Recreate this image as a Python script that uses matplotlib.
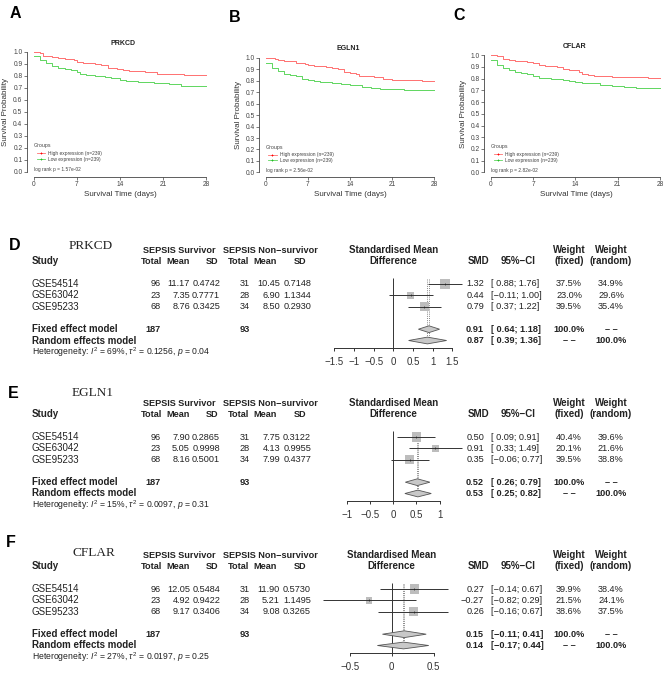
import matplotlib.pyplot as plt
import numpy as np

W, H = 669, 677
plt.rcParams['font.family'] = ['Liberation Sans', 'DejaVu Sans']
plt.rcParams['mathtext.fontset'] = 'custom'
plt.rcParams['mathtext.rm'] = 'Liberation Sans'
plt.rcParams['mathtext.it'] = 'Liberation Sans:italic'

# ---------------- Kaplan-Meier data ----------------
km_genes = ['PRKCD', 'EGLN1', 'CFLAR']
km_pvals = ['1.57e-02', '2.56e-02', '2.82e-02']
km_n_high = 239
km_n_low = 239

prkcd_high_t = [0, 1, 1.5, 3, 4, 5, 6.5, 7, 8, 10, 11, 12, 13.5, 14.5, 15.5, 18, 20, 24.5, 28]
prkcd_high_s = [1.0, 0.99, 0.97, 0.96, 0.95, 0.94, 0.93, 0.92, 0.91, 0.90, 0.89, 0.87, 0.86, 0.85, 0.84, 0.83, 0.82, 0.81, 0.81]
prkcd_low_t = [0, 1, 2, 3, 4, 5, 6, 7, 7.5, 8.5, 10, 11.5, 12.5, 14, 15, 17, 19.5, 22, 24, 28]
prkcd_low_s = [0.97, 0.93, 0.91, 0.88, 0.87, 0.86, 0.85, 0.83, 0.82, 0.81, 0.80, 0.79, 0.78, 0.77, 0.76, 0.75, 0.74, 0.73, 0.72, 0.72]

egln1_high_t = [0, 1.5, 2, 3, 5, 6.5, 7, 8, 10, 11, 12, 13, 14, 15, 15.5, 18, 19.5, 21, 26, 28]
egln1_high_s = [1.0, 0.99, 0.98, 0.97, 0.96, 0.95, 0.94, 0.93, 0.92, 0.91, 0.90, 0.88, 0.87, 0.86, 0.84, 0.83, 0.82, 0.81, 0.80, 0.80]
egln1_low_t = [0, 1, 2, 3, 4, 5, 6, 7, 8, 9, 11, 12.5, 14, 16, 17.5, 19, 23, 28]
egln1_low_s = [0.96, 0.91, 0.89, 0.86, 0.85, 0.84, 0.82, 0.81, 0.80, 0.79, 0.78, 0.77, 0.76, 0.75, 0.74, 0.73, 0.72, 0.72]

cflar_high_t = [0, 1, 2, 3, 4, 6, 7, 8, 9, 11, 12, 13, 14.5, 15, 16, 17, 20, 26, 28]
cflar_high_s = [1.0, 0.99, 0.97, 0.96, 0.95, 0.94, 0.93, 0.92, 0.91, 0.90, 0.88, 0.87, 0.86, 0.84, 0.83, 0.82, 0.815, 0.805, 0.805]
cflar_low_t = [0, 1, 2, 3, 4, 5, 6, 7, 8, 10, 12, 13, 14, 15, 18, 20, 22, 24, 28]
cflar_low_s = [0.96, 0.92, 0.89, 0.87, 0.86, 0.85, 0.84, 0.82, 0.81, 0.80, 0.79, 0.78, 0.77, 0.76, 0.75, 0.74, 0.73, 0.72, 0.72]

km_high = [(prkcd_high_t, prkcd_high_s), (egln1_high_t, egln1_high_s), (cflar_high_t, cflar_high_s)]
km_low = [(prkcd_low_t, prkcd_low_s), (egln1_low_t, egln1_low_s), (cflar_low_t, cflar_low_s)]

# ---------------- meta-analysis data ----------------
fp_genes = ['PRKCD', 'EGLN1', 'CFLAR']
studies = ['GSE54514', 'GSE63042', 'GSE95233']
surv_n = [96, 23, 68]
nonsurv_n = [31, 28, 34]
surv_mean = [[11.17, 7.35, 8.76], [7.90, 5.05, 8.16], [12.05, 4.92, 9.17]]
surv_sd = [[0.4742, 0.7771, 0.3425], [0.2865, 0.9998, 0.5001], [0.5484, 0.9422, 0.3406]]
nonsurv_mean = [[10.45, 6.90, 8.50], [7.75, 4.13, 7.99], [11.90, 5.21, 9.08]]
nonsurv_sd = [[0.7148, 1.1344, 0.2930], [0.3122, 0.9955, 0.4377], [0.5730, 1.1495, 0.3265]]
smd = [[1.32, 0.44, 0.79], [0.50, 0.91, 0.35], [0.27, -0.27, 0.26]]
ci_lo = [[0.88, -0.11, 0.37], [0.09, 0.33, -0.06], [-0.14, -0.82, -0.16]]
ci_hi = [[1.76, 1.00, 1.22], [0.91, 1.49, 0.77], [0.67, 0.29, 0.67]]
w_fixed = [[37.5, 23.0, 39.5], [40.4, 20.1, 39.5], [39.9, 21.5, 38.6]]
w_random = [[34.9, 29.6, 35.4], [39.6, 21.6, 38.8], [38.4, 24.1, 37.5]]
fixed_est = [[0.91, 0.64, 1.18], [0.52, 0.26, 0.79], [0.15, -0.11, 0.41]]
random_est = [[0.87, 0.39, 1.36], [0.53, 0.25, 0.82], [0.14, -0.17, 0.44]]
het_i2 = ['69%', '15%', '27%']
het_tau2 = ['0.1256', '0.0097', '0.0197']
het_p = ['0.04', '0.31', '0.25']
fp_xlim = [1.76, 1.49, 0.82]
fp_ticks = [[-1.5, -1, -0.5, 0, 0.5, 1, 1.5], [-1, -0.5, 0, 0.5, 1], [-0.5, 0, 0.5]]

RED = '#FF7070'
GREEN = '#5FD65F'
DARK = '#222222'
NUM = 6.6   # font size of the numbers in the tables
LAB = 7     # font size of the labels
DASH = '\u2013 \u2013'

fig = plt.figure(figsize=(W / 100, H / 100), dpi=100)


def box(l, t, r, b):
    return [l / W, 1 - b / H, (r - l) / W, (b - t) / H]


def txt(x, y, s, ha='left', size=LAB, weight='normal', color=DARK, **kw):
    fig.text(x / W, 1 - y / H, s, ha=ha, va='center', fontsize=size,
             fontweight=weight, color=color, **kw)


def mfmt(v, nd=2):
    return f'{v:.{nd}f}'.replace('-', '\u2212')


def cifmt(lo, hi):
    lo_s = f'{lo:5.2f}'.replace('-', '\u2212')
    return f'[{lo_s}; {mfmt(hi)}]'


# ---------------- KM panels ----------------
km_boxes = [(26.9, 47.2, 212.9, 176.8), (259.0, 53.4, 441.0, 176.9), (484.2, 50.6, 666.8, 177.0)]
km_letters = [('A', 15, 14), ('B', 235, 17), ('C', 459, 15)]
km_titles = [(123, 43.5), (348, 48.5), (575, 46)]
km_ylab = [(6, 112), (238.5, 115), (463.5, 114)]
km_xlab = [(120, 194), (350, 194.5), (576, 195)]

for i in range(3):
    ax = fig.add_axes(box(*km_boxes[i]))
    ht, hs = km_high[i]
    lt, ls = km_low[i]
    ax.step(ht, hs, where='post', color=RED, lw=0.7)
    ax.step(lt, ls, where='post', color=GREEN, lw=0.7)
    ax.set_xlim(-1.12, 29.12)
    ax.set_ylim(-0.04, 1.04)
    for sp in ['top', 'right']:
        ax.spines[sp].set_visible(False)
    ax.spines['left'].set_bounds(0, 1)
    ax.spines['bottom'].set_bounds(0, 28)
    for sp in ['left', 'bottom']:
        ax.spines[sp].set_linewidth(0.6)
        ax.spines[sp].set_color('#444444')
    ax.set_xticks([0, 7, 14, 21, 28])
    ax.set_yticks(np.round(np.arange(0, 1.01, 0.1), 1))
    ax.set_yticklabels([f'{v:.1f}' for v in np.arange(0, 1.01, 0.1)])
    ax.tick_params(labelsize=4.8, length=2, width=0.5, pad=1.2, colors='#444444')
    ax.patch.set_alpha(0)

    ax.text(0, 0.22, 'Groups', fontsize=3.8, color='#444444', va='center')
    ax.plot([0.45, 1.8], [0.155, 0.155], color=RED, lw=0.6)
    ax.plot([1.1], [0.155], marker='+', color='red', ms=2, mew=0.6)
    ax.text(2.3, 0.155, f'High expression (n={km_n_high})', fontsize=3.5, color='#444444', va='center')
    ax.plot([0.45, 1.8], [0.105, 0.105], color=GREEN, lw=0.6)
    ax.plot([1.1], [0.105], marker='+', color='#22BB22', ms=2, mew=0.6)
    ax.text(2.3, 0.105, f'Low expression (n={km_n_low})', fontsize=3.5, color='#444444', va='center')
    ax.text(0, 0.018, f'log rank p = {km_pvals[i]}', fontsize=3.5, color='#444444', va='center')

    L, lx, ly = km_letters[i]
    txt(lx, ly, L, ha='center', size=11.5, weight='bold', color='black')
    tx, ty = km_titles[i]
    txt(tx, ty, km_genes[i], ha='center', size=5, weight='bold')
    yx, yy = km_ylab[i]
    txt(yx, yy, 'Survival Probability', ha='center', size=5.8, color='#333333', rotation=90)
    xx, xy = km_xlab[i]
    txt(xx, xy, 'Survival Time (days)', ha='center', size=5.8, color='#333333')

# ---------------- forest panels ----------------
fp_letters = [('D', 15, 246), ('E', 13, 394), ('F', 11, 542.5)]
fp_title_pos = [(91, 246), (93, 393.5), (94, 552.5)]
fp_row0 = [284, 437, 589]
fp_zero = [393.3, 393.3, 391.7]
RH = 11.3  # px per row
HALF = 69  # half width of the plot region in px

X_STUDY = 32
X_TOT1, X_MEAN1, X_SD1 = 161, 190, 220
X_TOT2, X_MEAN2, X_SD2 = 250, 280, 311
X_SMD, X_CI, X_WF, X_WR = 484, 491, 569, 611

for g in range(3):
    r0 = fp_row0[g]

    def ry(r):
        return r0 + r * RH

    L, lx, ly = fp_letters[g]
    txt(lx, ly, L, ha='center', size=11.5, weight='bold', color='black')
    tx, ty = fp_title_pos[g]
    txt(tx, ty, fp_genes[g], ha='center', size=9.5, family='Liberation Serif')

    # header
    txt(179, ry(-3), 'SEPSIS Survivor', ha='center', weight='bold', size=6.6)
    txt(270, ry(-3), 'SEPSIS Non\u2212survivor', ha='center', weight='bold', size=6.6)
    txt(X_STUDY, ry(-2), 'Study', weight='bold')
    for x, lab in [(162, 'Total'), (189.5, 'Mean'), (218, 'SD'),
                   (249, 'Total'), (277, 'Mean'), (306, 'SD')]:
        txt(x, ry(-2), lab, ha='right', weight='bold', size=6.6)
    c = fp_zero[g]
    txt(c, ry(-3), 'Standardised Mean', ha='center', weight='bold')
    txt(c, ry(-2), 'Difference', ha='center', weight='bold')
    txt(478, ry(-2), 'SMD', ha='center', weight='bold')
    txt(518, ry(-2), '95%\u2212CI', ha='center', weight='bold')
    txt(X_WF, ry(-3), 'Weight', ha='center', weight='bold')
    txt(X_WF, ry(-2), '(fixed)', ha='center', weight='bold')
    txt(X_WR, ry(-3), 'Weight', ha='center', weight='bold')
    txt(X_WR, ry(-2), '(random)', ha='center', weight='bold')

    # study rows
    for k in range(3):
        y = ry(k)
        txt(X_STUDY, y, studies[k])
        txt(X_TOT1, y, str(surv_n[k]), ha='right', size=NUM)
        txt(X_MEAN1, y, mfmt(surv_mean[g][k]), ha='right', size=NUM)
        txt(X_SD1, y, mfmt(surv_sd[g][k], 4), ha='right', size=NUM)
        txt(X_TOT2, y, str(nonsurv_n[k]), ha='right', size=NUM)
        txt(X_MEAN2, y, mfmt(nonsurv_mean[g][k]), ha='right', size=NUM)
        txt(X_SD2, y, mfmt(nonsurv_sd[g][k], 4), ha='right', size=NUM)
        txt(X_SMD, y, mfmt(smd[g][k]), ha='right', size=NUM)
        txt(X_CI, y, cifmt(ci_lo[g][k], ci_hi[g][k]), size=NUM)
        txt(X_WF, y, f'{w_fixed[g][k]:.1f}%', ha='center', size=NUM)
        txt(X_WR, y, f'{w_random[g][k]:.1f}%', ha='center', size=NUM)

    # summary rows
    for r, name, est, (wf, wr) in [(4, 'Fixed effect model', fixed_est[g], ('100.0%', DASH)),
                                   (5, 'Random effects model', random_est[g], (DASH, '100.0%'))]:
        y = ry(r)
        txt(X_STUDY, y, name, weight='bold')
        txt(X_SMD, y, mfmt(est[0]), ha='right', weight='bold', size=NUM)
        txt(X_CI, y, cifmt(est[1], est[2]), weight='bold', size=NUM)
        txt(X_WF, y, wf, ha='center', weight='bold', size=NUM)
        txt(X_WR, y, wr, ha='center', weight='bold', size=NUM)
    txt(X_TOT1, ry(4), str(sum(surv_n)), ha='right', weight='bold', size=NUM)
    txt(X_TOT2, ry(4), str(sum(nonsurv_n)), ha='right', weight='bold', size=NUM)
    txt(X_STUDY, ry(6),
        rf'Heterogeneity: $I^2$ = {het_i2[g]}, $\tau^2$ = {het_tau2[g]}, $p$ = {het_p[g]}',
        size=6.2)

    # forest plot region
    ax = fig.add_axes(box(c - HALF, ry(-1), c + HALF, ry(5.65)))
    ax.patch.set_alpha(0)
    ax.set_xlim(-fp_xlim[g], fp_xlim[g])
    ax.set_ylim(5.65, -1)
    rows = np.arange(3)
    ax.vlines(0, -0.55, 5.65, color='#333333', lw=0.7)
    ax.vlines([fixed_est[g][0], random_est[g][0]], -0.45, 4.75, color='#888888', lw=0.7,
              linestyles=[(0, (1, 1.2))])
    sizes = (1.5 * np.sqrt(w_fixed[g]) * 0.72) ** 2
    ax.scatter(smd[g], rows, marker='s', s=sizes, color='#BDBDBD', lw=0, zorder=3)
    ax.hlines(rows, ci_lo[g], ci_hi[g], color='#333333', lw=0.7, zorder=4, clip_on=False)
    ax.scatter(smd[g], rows, marker='|', s=3, color='#222222', lw=0.5, zorder=5)
    for r, est in [(4, fixed_est[g]), (5, random_est[g])]:
        ax.fill([est[1], est[0], est[2], est[0]], [r, r - 0.3, r, r + 0.3],
                facecolor='#C8C8C8', edgecolor='#555555', lw=0.6, zorder=4)
    for sp in ['top', 'left', 'right']:
        ax.spines[sp].set_visible(False)
    ax.spines['bottom'].set_bounds(fp_ticks[g][0], fp_ticks[g][-1])
    ax.spines['bottom'].set_linewidth(0.7)
    ax.spines['bottom'].set_color('#333333')
    ax.set_yticks([])
    ax.set_xticks(fp_ticks[g])
    ax.set_xticklabels([f'{v:g}'.replace('-', '\u2212') for v in fp_ticks[g]])
    ax.tick_params(axis='x', labelsize=7, length=2.5, width=0.7, pad=4, colors='#333333')

fig.savefig('out.png', dpi=100)
